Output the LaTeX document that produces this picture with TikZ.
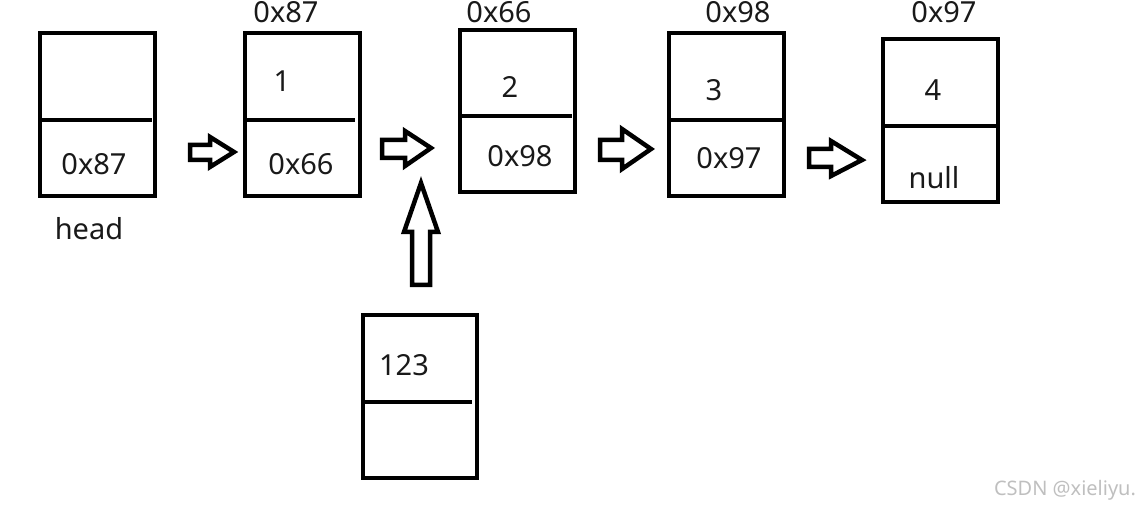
\documentclass[tikz,border=0pt]{standalone}
\usepackage{fontspec}
\setmainfont{Noto Sans}
\begin{document}
\begin{tikzpicture}[x=1pt,y=-1pt,
  cell/.style={draw=black,line width=4.5pt,outer sep=0pt,inner sep=0pt,anchor=north west,minimum width=115pt,minimum height=163pt},
  divider/.style={draw=black,line width=4.5pt},
  lbl/.style={font=\fontsize{29}{33}\selectfont,inner sep=0pt,text=black!90},
  blockarrow/.style={draw=black,line width=4.5pt,miter limit=10,line join=miter,fill=white},
  wmark/.style={font=\fontsize{20}{24}\selectfont,text=black!25,inner sep=0pt}]
\useasboundingbox (0,0) rectangle (1143,510);
% boxes
\node[cell] (b0) at (40,33) {};
\node[cell] (b1) at (245,33) {};
\node[cell,minimum height=162pt] (b2) at (460,30) {};
\node[cell] (b3) at (669,33) {};
\node[cell] (b4) at (883,39) {};
\node[cell,minimum width=114pt] (b5) at (363,315) {};
% dividers
\draw[divider] (b0.west |- 0,120) -- (152,120);
\draw[divider] (b1.west |- 0,120) -- (355,120);
\draw[divider] (b2.west |- 0,116) -- (572,116);
\draw[divider] (b3.west |- 0,120) -- (782,120);
\draw[divider] (b4.west |- 0,126) -- (996,126);
\draw[divider] (b5.west |- 0,402) -- (472,402);
% texts
\node[lbl] (t0) at (94,164) {0x87};
\node[lbl] (head) at (89,229) {head};
\node[lbl] (a1) at (286,12) {0x87};
\node[lbl] (v1) at (282,81) {1};
\node[lbl] (p1) at (301,164) {0x66};
\node[lbl] (a2) at (499,12) {0x66};
\node[lbl] (v2) at (510,87) {2};
\node[lbl] (p2) at (520,156) {0x98};
\node[lbl] (a3) at (738,12) {0x98};
\node[lbl] (v3) at (714,90) {3};
\node[lbl] (p3) at (729,158) {0x97};
\node[lbl] (a4) at (944,12) {0x97};
\node[lbl] (v4) at (933,90) {4};
\node[lbl] (p4) at (934,178) {null};
\node[lbl] (v5) at (404,365) {123};
\node[wmark] (wm) at (1065,490) {CSDN @xieliyu.};
% block arrows
\draw[blockarrow] (190,145) -- (210,145) -- (210,137) -- (234,152) -- (210,167) -- (210,160) -- (190,160) -- cycle;
\draw[blockarrow] (382,140) -- (405,140) -- (405,131) -- (431,148) -- (405,166) -- (405,158) -- (382,158) -- cycle;
\draw[blockarrow] (600,140) -- (622,140) -- (622,129) -- (651,149) -- (622,169) -- (622,160) -- (600,160) -- cycle;
\draw[blockarrow] (809,149) -- (831,149) -- (831,141) -- (862,160) -- (831,176) -- (831,167) -- (809,167) -- cycle;
\draw[blockarrow] (412,285) -- (412,232) -- (404,232) -- (421,183) -- (438,232) -- (430,232) -- (430,285) -- cycle;
\end{tikzpicture}
\end{document}
